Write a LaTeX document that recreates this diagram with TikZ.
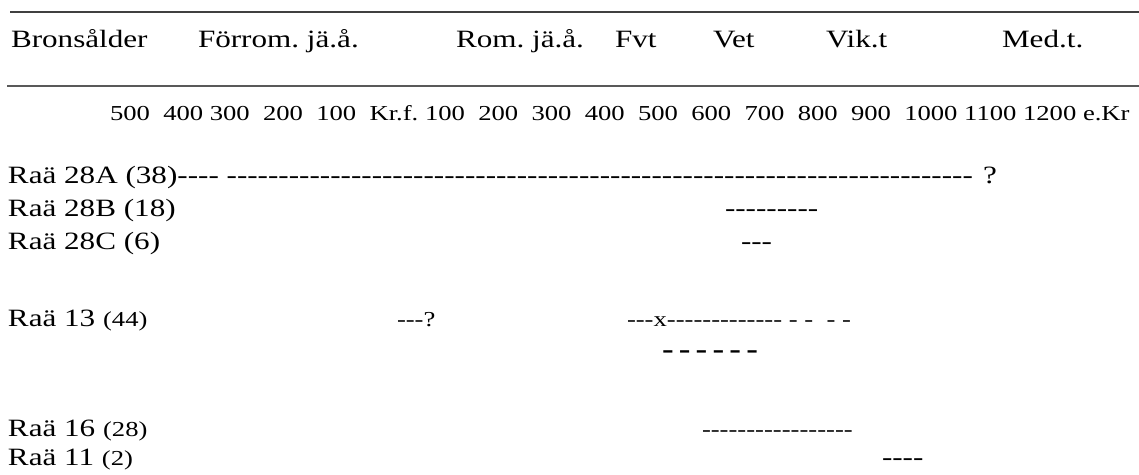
\documentclass[tikz,border=0pt]{standalone}
\usepackage{fontspec}
\setmainfont{Liberation Serif}[FakeStretch=1.25,Ligatures=TeXOff]
\ExplSyntaxOn
\cs_new:Npn \hyrun #1 {\prg_replicate:nn{#1}{-}}
\ExplSyntaxOff
\newcommand\labfont{\fontsize{24.9}{29}\selectfont\frenchspacing}
\newcommand\smfont{\fontsize{21.3}{25}\selectfont\frenchspacing}
\newcommand\bdfont{\fontsize{28}{32}\selectfont\bfseries\frenchspacing}
\newcommand\bgap{\hspace{5.2pt}}
\begin{document}
\begin{tikzpicture}[x=1pt,y=-1pt,
  txt/.style={inner sep=0pt,outer sep=0pt,anchor=base west,font=\labfont},
  sml/.style={txt,font=\smfont},
  bld/.style={txt,font=\bdfont},
  rule/.style={line width=1.6pt,black!75}]
\useasboundingbox (0,0) rectangle (1139,474);
% rules
\coordinate (t1) at (10,12);  \coordinate (t2) at (1139,12);
\coordinate (b1) at (7,86);   \coordinate (b2) at (1139,86);
\draw[rule] (t1) -- (t2);
\draw[rule,line width=1.8pt,black!65] (b1) -- (b2);
% period header
\node[txt] (h1) at (11,47)   {Bronsålder};
\node[txt] (h2) at (198,47)  {Förrom. jä.å.};
\node[txt] (h3) at (456,47)  {Rom. jä.å.};
\node[txt] (h4) at (615,47)  {Fvt};
\node[txt] (h5) at (713,47)  {Vet};
\node[txt] (h6) at (826,47)  {Vik.t};
\node[txt] (h7) at (1002,47) {Med.t.};
% year scale
\node[sml] (nums) at (110,120) {500~~400~300~~200~~100~~Kr.f.~100~~200~~300~~400~~500~~600~~700~~800~~900~~1000~1100~1200~e.Kr};
% sites
\node[txt] (l28a) at (8,183) {Raä 28A (38)};
\node[txt] (d28a) at (l28a.base east) {\hyrun{4}\ \hyrun{72}};
\node[txt] (q28a) at (983,183) {?};
\node[txt] (l28b) at (8,216) {Raä 28B (18)};
\node[txt] (d28b) at (725,216) {\hyrun{9}};
\node[txt] (l28c) at (8,249) {Raä 28C (6)};
\node[txt] (d28c) at (741,249) {\hyrun{3}};
\node[txt] (l13) at (8,326) {Raä 13 {\smfont(44)}};
\node[sml] (d13a) at (397,326) {\hyrun{3}?};
\node[sml] (d13b) at (627,326) {\hyrun{3}x\hyrun{13}\ -\ -\ \ -\ -};
\node[bld] (d13c) at (662,358) {-\bgap-\bgap-\bgap-\bgap-\bgap-};
\node[txt] (l16) at (8,436) {Raä 16 {\smfont(28)}};
\node[sml] (d16) at (702,436) {\hyrun{17}};
\node[txt] (l11) at (8,465) {Raä 11 {\smfont(2)}};
\node[txt] (d11) at (882,465) {\hyrun{4}};
\end{tikzpicture}
\end{document}
